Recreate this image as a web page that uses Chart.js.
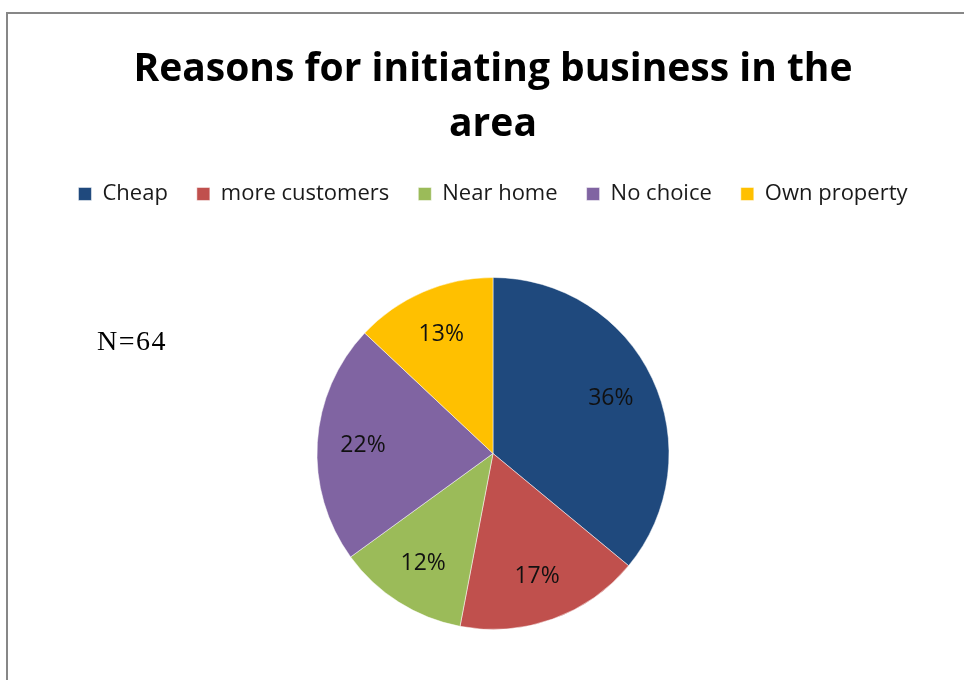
<!DOCTYPE html>
<html>
<head>
<meta charset="utf-8">
<title>Reasons for initiating business in the area</title>
<script src="https://cdn.jsdelivr.net/npm/chart.js@4/dist/chart.umd.min.js"></script>
<style>
body{margin:0;background:#fff;}
canvas{display:block;}
</style>
</head>
<body>
<canvas id="reasonsChart" width="964" height="680"></canvas>
<script>
// survey answers, percent of respondents
const reasons = ["Cheap", "more customers", "Near home", "No choice", "Own property"];
const shares = [36, 17, 12, 22, 13];
const sliceColors = ["#1F497D", "#C0504D", "#9BBB59", "#8064A2", "#FFC000"];
const sampleNote = "N=64";

// grey frame round the chart, plus the sample size note on the left
const framePlugin = {
id: "frame",
beforeDraw(chart){
let ctx = chart.ctx;
ctx.save();
ctx.fillStyle = "#fff";
ctx.fillRect(0, 0, chart.width, chart.height);
ctx.strokeStyle = "#878787";
ctx.lineWidth = 2;
ctx.strokeRect(7, 13, chart.width + 20, chart.height + 20);
ctx.restore();
},
afterDraw(chart){
let ctx = chart.ctx;
ctx.save();
ctx.font = "28px 'Liberation Serif'";
ctx.letterSpacing = "1.5px";
ctx.fillStyle = "#000";
ctx.textBaseline = "alphabetic";
ctx.fillText(sampleNote, 97, 350);
ctx.restore();
}
};

// leave some room between the legend and the pie
const legendGap = {
id: "legendGap",
beforeInit(chart){
let fit = chart.legend.fit;
chart.legend.fit = function(){
fit.call(this);
this.height += 18;
};
}
};

// percentage written inside each slice
const sliceLabels = {
id: "sliceLabels",
afterDatasetsDraw(chart){
let ctx = chart.ctx;
let meta = chart.getDatasetMeta(0);
ctx.save();
ctx.font = "23px 'Open Sans'";
ctx.fillStyle = "#111";
ctx.textAlign = "center";
ctx.textBaseline = "middle";
meta.data.forEach(function(arc, i){
let p = arc.getProps(["x", "y", "startAngle", "endAngle", "outerRadius"], true);
let mid = (p.startAngle + p.endAngle) / 2;
let r = p.outerRadius * 0.74;
ctx.fillText(shares[i] + "%", p.x + Math.cos(mid) * r, p.y + Math.sin(mid) * r);
});
ctx.restore();
}
};

new Chart(document.getElementById("reasonsChart"), {
type: "pie",
data: {
labels: reasons,
datasets: [{
data: shares,
backgroundColor: sliceColors,
borderColor: "#fff",
borderWidth: 0.5,
radius: 176
}]
},
options: {
responsive: false,
animation: false,
layout: {
padding: {left: 22, right: 0, top: 0, bottom: 6}
},
plugins: {
title: {
display: true,
text: ["Reasons for initiating business in the", "area"],
color: "#000",
font: {family: "'Open Sans'", size: 39, weight: "bold", lineHeight: 1.41},
padding: {top: 42, bottom: 2}
},
legend: {
position: "top",
labels: {
color: "#1a1a1a",
font: {family: "'Open Sans'", size: 22},
boxWidth: 13,
boxHeight: 13,
padding: 29
}
},
tooltip: {enabled: false}
}
},
plugins: [framePlugin, legendGap, sliceLabels]
});
</script>
</body>
</html>
